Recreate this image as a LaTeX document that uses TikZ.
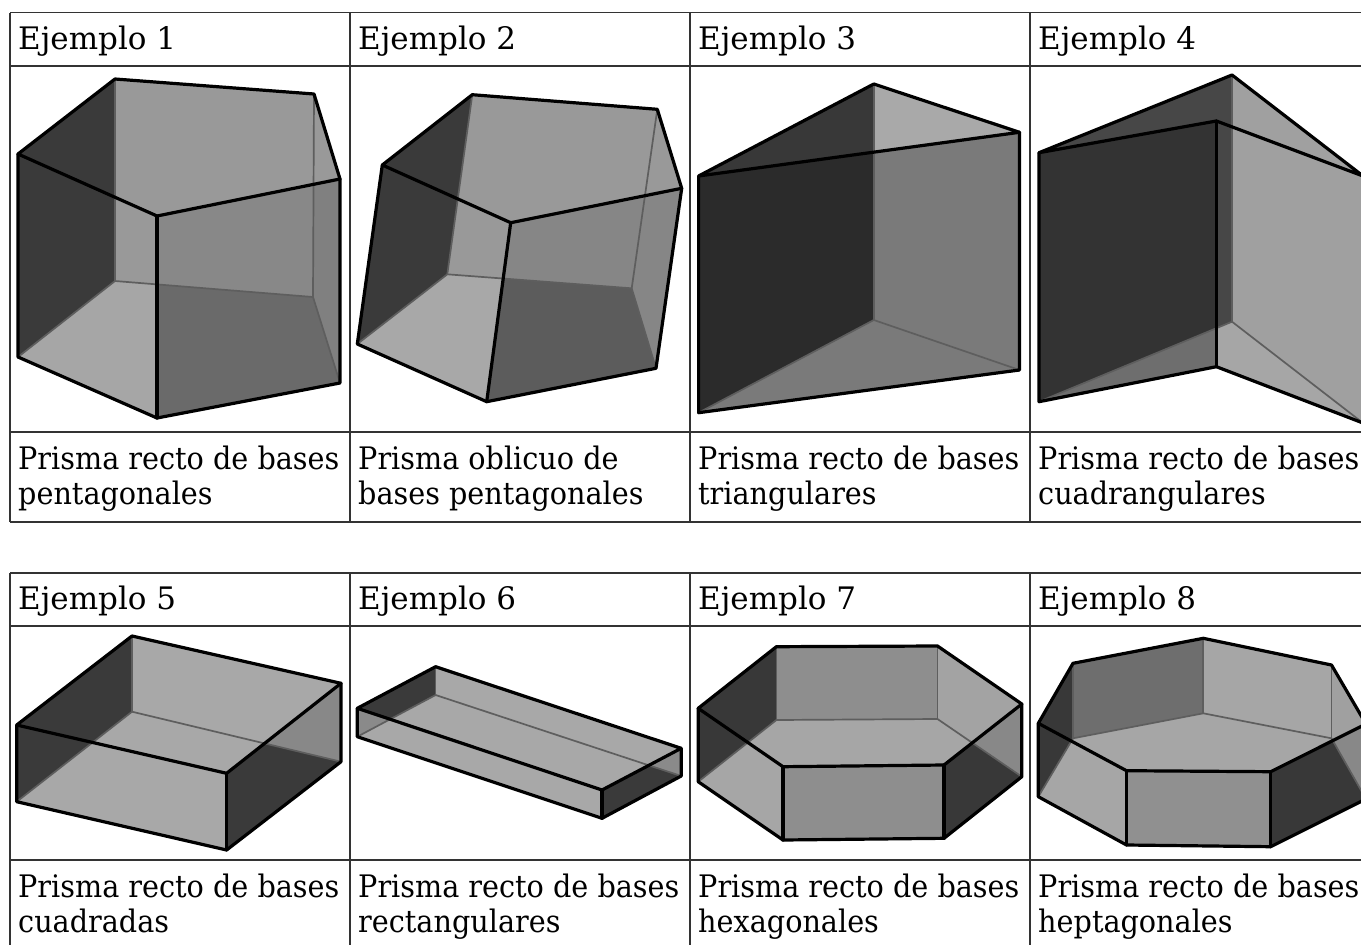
\documentclass[tikz,border=0pt]{standalone}
\usepackage{fontspec}
\setmainfont{DejaVu Serif}
\newfontfamily\capfont[FakeStretch=0.925]{DejaVu Serif}
\definecolor{g2b}{HTML}{2B2B2B}
\definecolor{g33}{HTML}{333333}
\definecolor{g38}{HTML}{383838}
\definecolor{g3a}{HTML}{3A3A3A}
\definecolor{g47}{HTML}{474747}
\definecolor{g5c}{HTML}{5C5C5C}
\definecolor{g6a}{HTML}{6A6A6A}
\definecolor{g6e}{HTML}{6E6E6E}
\definecolor{g7a}{HTML}{7A7A7A}
\definecolor{g80}{HTML}{808080}
\definecolor{g86}{HTML}{868686}
\definecolor{g88}{HTML}{888888}
\definecolor{g8a}{HTML}{8A8A8A}
\definecolor{g8e}{HTML}{8E8E8E}
\definecolor{g90}{HTML}{909090}
\definecolor{g99}{HTML}{999999}
\definecolor{ga0}{HTML}{A0A0A0}
\definecolor{ga3}{HTML}{A3A3A3}
\definecolor{ga6}{HTML}{A6A6A6}
\definecolor{ga8}{HTML}{A8A8A8}
\definecolor{ga9}{HTML}{A9A9A9}
\definecolor{hidc}{HTML}{5E5E5E}
\definecolor{tabc}{HTML}{333333}
\begin{document}
\begin{tikzpicture}[x=1pt,y=-1pt,
  visedge/.style={line width=3.2pt,line join=round,line cap=round,draw=black},
  hidedge/.style={line width=1.7pt,draw=hidc,line cap=round},
  tline/.style={line width=1.8pt,draw=tabc},
  hdrtxt/.style={anchor=base west,inner sep=0pt,font=\fontsize{31}{36}\selectfont},
  captxt/.style={anchor=base west,inner sep=0pt,font=\capfont\fontsize{31}{36}\selectfont}]
\useasboundingbox (0,0) rectangle (1361,945);
\fill[white] (0,0) rectangle (1361,945);

% ================= Example 1 =================
\coordinate (p1A) at (115,79);   \coordinate (p1B) at (314,94);
\coordinate (p1C) at (340,179);  \coordinate (p1D) at (157,216);
\coordinate (p1E) at (18,154);
\coordinate (p1a) at (115,281);  \coordinate (p1b) at (313,297);
\coordinate (p1c) at (340,383);  \coordinate (p1d) at (157,418);
\coordinate (p1e) at (18,357);
\fill[g3a] (p1E)--(p1A)--(p1a)--(p1e)--cycle;
\fill[g99] (p1A)--(p1B)--(p1b)--(p1a)--cycle;
\fill[g99] (p1B)--(p1C)--(p1c)--(p1b)--cycle;
\fill[ga6] (p1a)--(p1b)--(p1c)--(p1d)--(p1e)--cycle;
\begin{scope}
  \clip (p1D)--(p1C)--(p1c)--(p1d)--cycle;
  \fill[g88] (p1D)--(p1C)--(p1c)--(p1d)--cycle;
  \fill[g80] (p1B)--(p1C)--(p1c)--(p1b)--cycle;
  \fill[g6a] (p1a)--(p1b)--(p1c)--(p1d)--(p1e)--cycle;
\end{scope}
\draw[hidedge] (p1A)--(p1a); \draw[hidedge] (p1B)--(p1b);
\draw[hidedge] (p1e)--(p1a)--(p1b)--(p1c);
\draw[visedge] (p1A)--(p1B)--(p1C)--(p1D)--(p1E)--cycle;
\draw[visedge] (p1E)--(p1e)--(p1d)--(p1c)--(p1C);
\draw[visedge] (p1D)--(p1d);

% ================= Example 2 =================
\coordinate (p2A) at (472.3,94.7);  \coordinate (p2B) at (657.3,109.3);
\coordinate (p2C) at (681.7,188.3); \coordinate (p2D) at (510.7,222.7);
\coordinate (p2E) at (382.3,165);
\coordinate (p2a) at (447.3,274.3); \coordinate (p2b) at (631.7,288.3);
\coordinate (p2c) at (656,368.3);   \coordinate (p2d) at (486.7,401.7);
\coordinate (p2e) at (357.3,344);
\fill[g3a] (p2E)--(p2A)--(p2a)--(p2e)--cycle;
\fill[g99] (p2A)--(p2B)--(p2b)--(p2a)--cycle;
\fill[g99] (p2B)--(p2C)--(p2c)--(p2b)--cycle;
\fill[ga8] (p2a)--(p2b)--(p2c)--(p2d)--(p2e)--cycle;
\begin{scope}
  \clip (p2D)--(p2C)--(p2c)--(p2d)--cycle;
  \fill[g86] (p2D)--(p2C)--(p2c)--(p2d)--cycle;
  \fill[g5c] (p2a)--(p2b)--(p2c)--(p2d)--(p2e)--cycle;
\end{scope}
\draw[hidedge] (p2A)--(p2a); \draw[hidedge] (p2B)--(p2b);
\draw[hidedge] (p2e)--(p2a)--(p2b)--(p2c);
\draw[visedge] (p2A)--(p2B)--(p2C)--(p2D)--(p2E)--cycle;
\draw[visedge] (p2E)--(p2e)--(p2d)--(p2c)--(p2C);
\draw[visedge] (p2D)--(p2d);

% ================= Example 3 =================
\coordinate (p3A) at (873.8,84);   \coordinate (p3B) at (1019.5,132.3);
\coordinate (p3C) at (698.6,176);
\coordinate (p3a) at (873.8,320);  \coordinate (p3b) at (1019.5,370);
\coordinate (p3c) at (698.6,412.7);
\fill[g38] (p3C)--(p3A)--(p3a)--(p3c)--cycle;
\fill[ga9] (p3A)--(p3B)--(p3b)--(p3a)--cycle;
\fill[ga9] (p3c)--(p3a)--(p3b)--cycle;
\begin{scope}
  \clip (p3C)--(p3B)--(p3b)--(p3c)--cycle;
  \fill[g7a] (p3C)--(p3B)--(p3b)--(p3c)--cycle;
  \fill[g2b] (p3C)--(p3A)--(p3a)--(p3c)--cycle;
\end{scope}
\draw[hidedge] (p3A)--(p3a); \draw[hidedge] (p3c)--(p3a)--(p3b);
\draw[visedge] (p3C)--(p3A)--(p3B)--cycle;
\draw[visedge] (p3C)--(p3c)--(p3b)--(p3B);

% ================= Example 4 =================
\coordinate (p4A) at (1232,75);    \coordinate (p4L) at (1039,152.7);
\coordinate (p4F) at (1216.4,121); \coordinate (p4R) at (1363,176);
\coordinate (p4a) at (1232,321.7); \coordinate (p4l) at (1039,401.7);
\coordinate (p4f) at (1216.4,366.7); \coordinate (p4r) at (1363,423);
\fill[g47] (p4L)--(p4A)--(p4a)--(p4l)--cycle;
\fill[ga0] (p4A)--(p4R)--(p4r)--(p4a)--cycle;
\fill[ga6] (p4l)--(p4a)--(p4r)--(p4f)--cycle;
\begin{scope}
  \clip (p4L)--(p4F)--(p4f)--(p4l)--cycle;
  \fill[g33] (p4L)--(p4F)--(p4f)--(p4l)--cycle;
  \fill[g6e] (p4l)--(p4a)--(p4r)--(p4f)--cycle;
\end{scope}
\draw[hidedge] (p4A)--(p4a); \draw[hidedge] (p4l)--(p4a)--(p4r);
\draw[visedge] (p4L)--(p4A)--(p4R)--(p4F)--cycle;
\draw[visedge] (p4L)--(p4l)--(p4f)--(p4r)--(p4R);
\draw[visedge] (p4F)--(p4f);

% ================= Example 5 =================
\coordinate (p5A) at (132,636);    \coordinate (p5R) at (341,683.3);
\coordinate (p5F) at (226.6,773.3);\coordinate (p5L) at (16.7,725);
\coordinate (p5a) at (132,711.7);  \coordinate (p5r) at (341,761.7);
\coordinate (p5f) at (226.6,850);  \coordinate (p5l) at (16.7,801.7);
\fill[g3a] (p5L)--(p5A)--(p5a)--(p5l)--cycle;
\fill[ga8] (p5A)--(p5R)--(p5r)--(p5a)--cycle;
\fill[ga8] (p5l)--(p5a)--(p5r)--(p5f)--cycle;
\begin{scope}
  \clip (p5F)--(p5R)--(p5r)--(p5f)--cycle;
  \fill[g88] (p5F)--(p5R)--(p5r)--(p5f)--cycle;
  \fill[g3a] (p5l)--(p5a)--(p5r)--(p5f)--cycle;
\end{scope}
\draw[hidedge] (p5A)--(p5a); \draw[hidedge] (p5l)--(p5a)--(p5r);
\draw[visedge] (p5L)--(p5A)--(p5R)--(p5F)--cycle;
\draw[visedge] (p5L)--(p5l)--(p5f)--(p5r)--(p5R);
\draw[visedge] (p5F)--(p5f);

% ================= Example 6 =================
\coordinate (p6A) at (435.6,666.7); \coordinate (p6R) at (681.2,748.3);
\coordinate (p6F) at (602,790);     \coordinate (p6L) at (357.3,708.3);
\coordinate (p6a) at (435.6,695);   \coordinate (p6r) at (681.2,776);
\coordinate (p6f) at (602,818.3);   \coordinate (p6l) at (357.3,736.7);
\fill[g3a] (p6L)--(p6A)--(p6a)--(p6l)--cycle;
\fill[ga8] (p6A)--(p6R)--(p6r)--(p6a)--cycle;
\fill[ga8] (p6l)--(p6a)--(p6r)--(p6f)--cycle;
\begin{scope}
  \clip (p6L)--(p6F)--(p6f)--(p6l)--cycle;
  \fill[g8a] (p6L)--(p6A)--(p6a)--(p6l)--cycle;
\end{scope}
\begin{scope}
  \clip (p6F)--(p6R)--(p6r)--(p6f)--cycle;
  \fill[g8a] (p6F)--(p6R)--(p6r)--(p6f)--cycle;
  \fill[g3a] (p6l)--(p6a)--(p6r)--(p6f)--cycle;
\end{scope}
\draw[hidedge] (p6A)--(p6a); \draw[hidedge] (p6l)--(p6a)--(p6r);
\draw[visedge] (p6L)--(p6A)--(p6R)--(p6F)--cycle;
\draw[visedge] (p6L)--(p6l)--(p6f)--(p6r)--(p6R);
\draw[visedge] (p6F)--(p6f);

% ================= Example 7 =================
\coordinate (t1) at (776.4,646.7); \coordinate (t2) at (937.5,646);
\coordinate (t3) at (1021.8,704);  \coordinate (t4) at (944,765);
\coordinate (t5) at (783,766.7);   \coordinate (t6) at (698.2,708.3);
\coordinate (b1) at (776.4,720);   \coordinate (b2) at (937.5,719);
\coordinate (b3) at (1021.8,776.7);\coordinate (b4) at (944,838.3);
\coordinate (b5) at (783,840);     \coordinate (b6) at (698.2,781.7);
\fill[g38] (t6)--(t1)--(b1)--(b6)--cycle;
\fill[g8e] (t1)--(t2)--(b2)--(b1)--cycle;
\fill[ga3] (t2)--(t3)--(b3)--(b2)--cycle;
\fill[ga6] (b1)--(b2)--(b3)--(b4)--(b5)--(b6)--cycle;
\fill[g8e] (t5)--(t4)--(b4)--(b5)--cycle;
\begin{scope}
  \clip (t4)--(t3)--(b3)--(b4)--cycle;
  \fill[g88] (t4)--(t3)--(b3)--(b4)--cycle;
  \fill[g38] (b1)--(b2)--(b3)--(b4)--(b5)--(b6)--cycle;
\end{scope}
\draw[hidedge] (t1)--(b1); \draw[hidedge] (t2)--(b2);
\draw[hidedge] (b6)--(b1)--(b2)--(b3);
\draw[visedge] (t1)--(t2)--(t3)--(t4)--(t5)--(t6)--cycle;
\draw[visedge] (t6)--(b6)--(b5)--(b4)--(b3)--(t3);
\draw[visedge] (t5)--(b5); \draw[visedge] (t4)--(b4);

% ================= Example 8 =================
\coordinate (h1) at (1203.3,638.3); \coordinate (h2) at (1331.5,665);
\coordinate (h3) at (1366,724);     \coordinate (h4) at (1270.7,771.7);
\coordinate (h5) at (1126.5,770.7); \coordinate (h6) at (1038.3,723.3);
\coordinate (h7) at (1073,663.3);
\coordinate (k1) at (1203.3,713.3); \coordinate (k2) at (1331.5,738.3);
\coordinate (k3) at (1366,799);     \coordinate (k4) at (1270.7,846.7);
\coordinate (k5) at (1126.5,845);   \coordinate (k6) at (1038.3,796.7);
\coordinate (k7) at (1073,738.3);
\fill[g38] (h6)--(h7)--(k7)--(k6)--cycle;
\fill[g6e] (h7)--(h1)--(k1)--(k7)--cycle;
\fill[ga6] (h1)--(h2)--(k2)--(k1)--cycle;
\fill[ga0] (h2)--(h3)--(k3)--(k2)--cycle;
\fill[ga6] (k1)--(k2)--(k3)--(k4)--(k5)--(k6)--(k7)--cycle;
\fill[g90] (h5)--(h4)--(k4)--(k5)--cycle;
\begin{scope}
  \clip (h4)--(h3)--(k3)--(k4)--cycle;
  \fill[g88] (h4)--(h3)--(k3)--(k4)--cycle;
  \fill[g38] (k1)--(k2)--(k3)--(k4)--(k5)--(k6)--(k7)--cycle;
\end{scope}
\draw[hidedge] (h7)--(k7); \draw[hidedge] (h1)--(k1); \draw[hidedge] (h2)--(k2);
\draw[hidedge] (k6)--(k7)--(k1)--(k2)--(k3);
\draw[visedge] (h1)--(h2)--(h3)--(h4)--(h5)--(h6)--(h7)--cycle;
\draw[visedge] (h6)--(k6)--(k5)--(k4)--(k3)--(h3);
\draw[visedge] (h5)--(k5); \draw[visedge] (h4)--(k4);

% ================= Table 1 =================
\foreach \yy in {12.5,66,432,522} \draw[tline] (10,\yy) -- (1361,\yy);
\foreach \xx in {10,350,690,1030} \draw[tline] (\xx,12.5) -- (\xx,522);
\node[hdrtxt] (h1t) at (18,49.5) {Ejemplo 1};
\node[hdrtxt] (h2t) at (358,49.5) {Ejemplo 2};
\node[hdrtxt] (h3t) at (698,49.5) {Ejemplo 3};
\node[hdrtxt] (h4t) at (1038,49.5) {Ejemplo 4};
\node[captxt] (c1a) at (18,469.3) {Prisma recto de bases};
\node[captxt] (c1b) at (18,504) {pentagonales};
\node[captxt] (c2a) at (358,469.3) {Prisma oblicuo de};
\node[captxt] (c2b) at (358,504) {bases pentagonales};
\node[captxt] (c3a) at (698,469.3) {Prisma recto de bases};
\node[captxt] (c3b) at (698,504) {triangulares};
\node[captxt] (c4a) at (1038,469.3) {Prisma recto de bases};
\node[captxt] (c4b) at (1038,504) {cuadrangulares};

% ================= Table 2 =================
\foreach \yy in {573,626,860} \draw[tline] (10,\yy) -- (1361,\yy);
\foreach \xx in {10,350,690,1030} \draw[tline] (\xx,573) -- (\xx,946);
\node[hdrtxt] (h5t) at (18,609.5) {Ejemplo 5};
\node[hdrtxt] (h6t) at (358,609.5) {Ejemplo 6};
\node[hdrtxt] (h7t) at (698,609.5) {Ejemplo 7};
\node[hdrtxt] (h8t) at (1038,609.5) {Ejemplo 8};
\node[captxt] (c5a) at (18,897.5) {Prisma recto de bases};
\node[captxt] (c5b) at (18,932.5) {cuadradas};
\node[captxt] (c6a) at (358,897.5) {Prisma recto de bases};
\node[captxt] (c6b) at (358,932.5) {rectangulares};
\node[captxt] (c7a) at (698,897.5) {Prisma recto de bases};
\node[captxt] (c7b) at (698,932.5) {hexagonales};
\node[captxt] (c8a) at (1038,897.5) {Prisma recto de bases};
\node[captxt] (c8b) at (1038,932.5) {heptagonales};
\end{tikzpicture}
\end{document}
